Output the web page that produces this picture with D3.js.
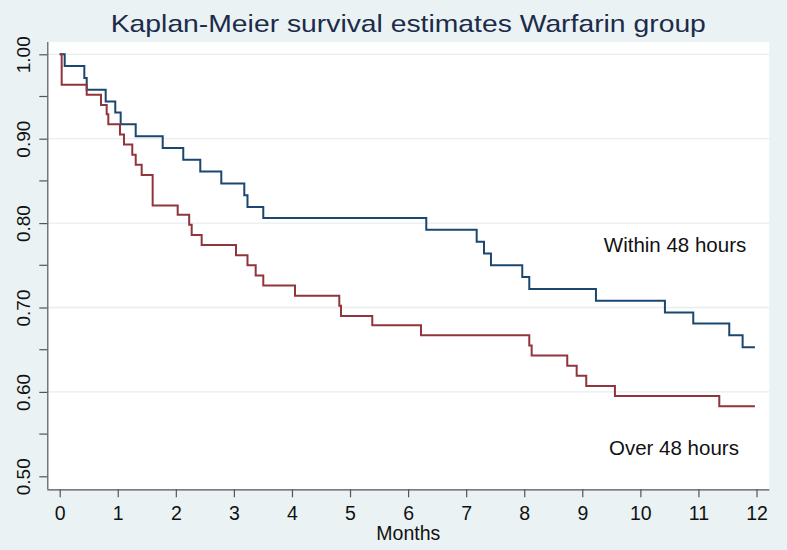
<!DOCTYPE html>
<html>
<head>
<meta charset="utf-8">
<script src="https://cdn.jsdelivr.net/npm/d3@7"></script>
<style>
  html, body { margin: 0; padding: 0; background: #EAF2F3; }
  svg { display: block; }
  text { font-family: Arial, "Liberation Sans", sans-serif; }
</style>
</head>
<body>
<svg id="chart" width="787" height="550"></svg>
<script>
// ---- data ----
const titleText = "Kaplan-Meier survival estimates Warfarin group";
const xTicks = [0, 1, 2, 3, 4, 5, 6, 7, 8, 9, 10, 11, 12];
const yTicks = [0.5, 0.6, 0.7, 0.8, 0.9, 1.0];
const yMinorTicks = [0.55, 0.65, 0.75, 0.85, 0.95];
const yTickLabels = ["0.50", "0.60", "0.70", "0.80", "0.90", "1.00"];
const groupNames = ["Within 48 hours", "Over 48 hours"];

const withinTimes = [0, 0.086, 0.424, 0.465, 0.792, 0.957, 1.050, 1.309, 1.774, 2.128, 2.421, 2.783, 3.179, 3.234, 3.506, 6.313, 7.181, 7.307, 7.427, 7.966, 8.087, 9.235, 10.423, 10.911, 11.531, 11.761, 11.973];
const withinSurv = [1, 0.986, 0.972, 0.958, 0.944, 0.931, 0.917, 0.903, 0.889, 0.875, 0.861, 0.847, 0.833, 0.819, 0.806, 0.792, 0.778, 0.764, 0.750, 0.736, 0.722, 0.708, 0.694, 0.681, 0.667, 0.653, 0.653];

const overTimes = [0, 0.034, 0.465, 0.711, 0.809, 0.837, 1.038, 1.107, 1.250, 1.309, 1.412, 1.601, 2.032, 2.230, 2.273, 2.445, 3.036, 3.234, 3.375, 3.506, 4.052, 4.815, 4.844, 5.383, 6.222, 8.087, 8.128, 8.741, 8.903, 9.068, 9.562, 11.359, 11.973];
const overSurv = [1, 0.964, 0.952, 0.940, 0.929, 0.917, 0.905, 0.893, 0.881, 0.869, 0.857, 0.821, 0.810, 0.798, 0.786, 0.774, 0.762, 0.750, 0.738, 0.726, 0.714, 0.702, 0.690, 0.679, 0.667, 0.655, 0.643, 0.631, 0.619, 0.607, 0.595, 0.583, 0.583];

// ---- layout ----
const svg = d3.select("#chart");
const W = 787, H = 550;
const plot = { left: 47.3, right: 769.3, top: 42, bottom: 489.3 };

const x = d3.scaleLinear().domain([0, 12]).range([59.7, 756.5]);
const y = d3.scaleLinear().domain([0.5, 1.0]).range([476.3, 54.3]);

svg.append("rect").attr("width", W).attr("height", H).attr("fill", "#EAF2F3");
svg.append("rect")
  .attr("x", plot.left).attr("y", plot.top)
  .attr("width", plot.right - plot.left).attr("height", plot.bottom - plot.top)
  .attr("fill", "#ffffff");

// gridlines
svg.append("g").selectAll("line")
  .data(yTicks.filter(d => d > 0.5))
  .join("line")
  .attr("x1", plot.left).attr("x2", plot.right)
  .attr("y1", d => y(d)).attr("y2", d => y(d))
  .attr("stroke", "#E6EEF0").attr("stroke-width", 1.3);

// title (slightly widened glyphs like the original)
const titleCx = (plot.left + plot.right) / 2;
svg.append("text")
  .attr("transform", `translate(${titleCx},32) scale(1.18,1)`)
  .attr("text-anchor", "middle")
  .attr("font-size", 24)
  .attr("fill", "#1C2B4A")
  .text(titleText);

// x axis
const xAxis = d3.axisBottom(x).tickValues(xTicks).tickSize(8).tickPadding(9).tickFormat(d3.format("d"));
const gx = svg.append("g").attr("transform", `translate(0,${plot.bottom})`).call(xAxis);
gx.select(".domain").attr("d", `M${plot.left},0.5H${plot.right}`).attr("stroke", "#555").attr("stroke-width", 1.2);
gx.selectAll(".tick line").attr("stroke", "#555").attr("stroke-width", 1.2);
gx.selectAll(".tick text").attr("font-size", 19.5).attr("fill", "#111").attr("font-family", "Arial, 'Liberation Sans', sans-serif");

svg.append("text")
  .attr("x", (plot.left + plot.right) / 2).attr("y", 540)
  .attr("text-anchor", "middle").attr("font-size", 19.5).attr("fill", "#111")
  .text("Months");

// y axis
const yAxis = d3.axisLeft(y).tickValues(yTicks).tickSize(8).tickFormat((d, i) => yTickLabels[i]);
const gy = svg.append("g").attr("transform", `translate(${plot.left},0)`).call(yAxis);
gy.select(".domain").attr("d", `M0.5,${plot.top}V${plot.bottom}`).attr("stroke", "#555").attr("stroke-width", 1.2);
gy.selectAll(".tick line").attr("stroke", "#555").attr("stroke-width", 1.2);
gy.selectAll(".tick text")
  .attr("font-size", 19).attr("fill", "#111")
  .attr("font-family", "Arial, 'Liberation Sans', sans-serif")
  .attr("text-anchor", "middle")
  .attr("transform", "rotate(-90)")
  .attr("x", 0).attr("y", -17).attr("dy", 0);
// minor ticks
svg.append("g").selectAll("line")
  .data(yMinorTicks)
  .join("line")
  .attr("x1", plot.left - 8).attr("x2", plot.left)
  .attr("y1", d => y(d)).attr("y2", d => y(d))
  .attr("stroke", "#555").attr("stroke-width", 1.2);

// curves
const line = d3.line().x(d => x(d[0])).y(d => y(d[1])).curve(d3.curveStepAfter);
const withinPts = withinTimes.map((t, i) => [t, withinSurv[i]]);
const overPts = overTimes.map((t, i) => [t, overSurv[i]]);

svg.append("path").datum(withinPts).attr("d", line)
  .attr("fill", "none").attr("stroke", "#1A476F").attr("stroke-width", 2);
svg.append("path").datum(overPts).attr("d", line)
  .attr("fill", "none").attr("stroke", "#90353B").attr("stroke-width", 2);

// labels
svg.append("text").attr("x", x(9.37)).attr("y", y(0.766))
  .attr("font-size", 20.5).attr("fill", "#111").text(groupNames[0]);
svg.append("text").attr("x", x(9.46)).attr("y", y(0.525))
  .attr("font-size", 20.5).attr("fill", "#111").text(groupNames[1]);
</script>
</body>
</html>
